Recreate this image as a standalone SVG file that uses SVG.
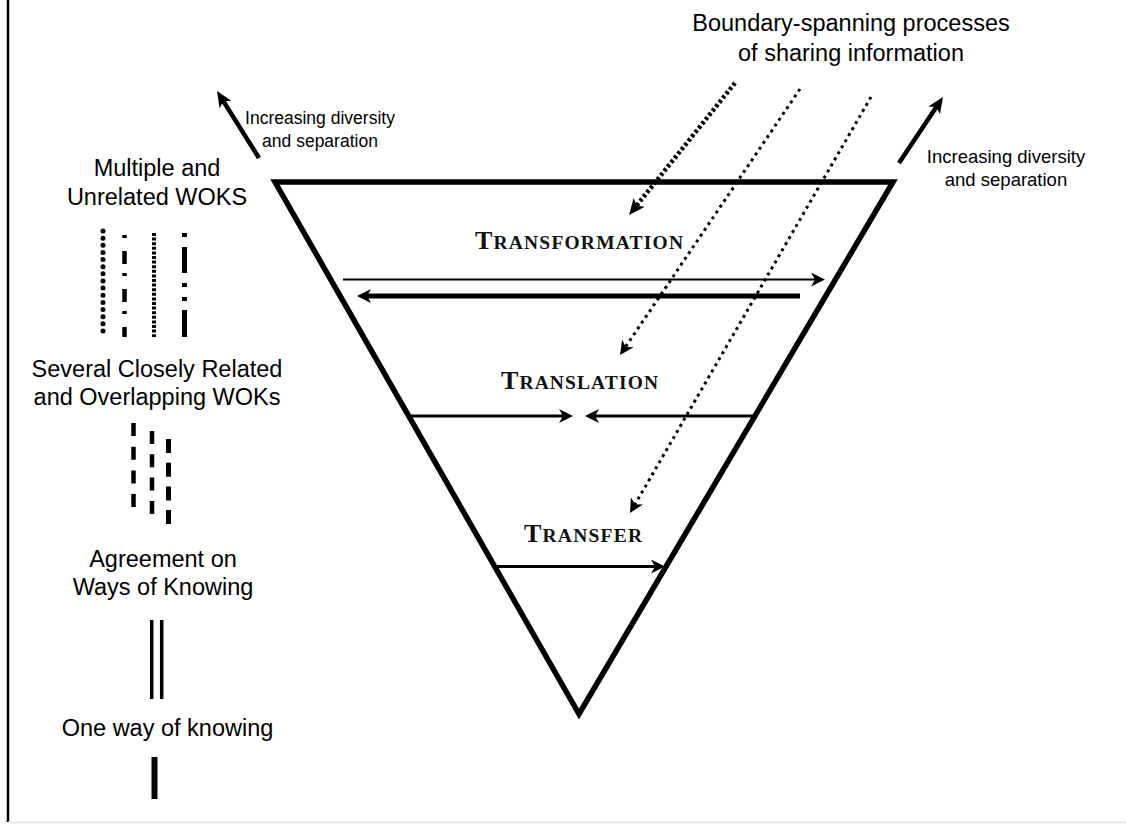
<svg xmlns="http://www.w3.org/2000/svg" width="1126" height="825" viewBox="0 0 1126 825">
<style>
.sans{font-family:"Liberation Sans",Arial,sans-serif;fill:#000}
.lbl{font-size:23.5px;text-anchor:middle}
.small{font-size:17.5px;text-anchor:middle}
.smallr{font-size:18.5px;text-anchor:middle}
.title{font-size:23.5px;text-anchor:middle}
.serif{font-family:"Liberation Serif","Times New Roman",serif;font-weight:bold;fill:#111}
.big{font-size:26px}
.sc{font-size:19.5px}
.ln{stroke:#000;fill:none}
</style>
<defs>
<marker id="ah" viewBox="0 0 14 14" refX="8" refY="7" markerWidth="14" markerHeight="14" markerUnits="userSpaceOnUse" orient="auto">
<path d="M0,0 L14,7 L0,14 L4,7 z" fill="#000"/>
</marker>
<marker id="ahb" viewBox="0 0 16 14" refX="10" refY="7" markerWidth="16" markerHeight="14" markerUnits="userSpaceOnUse" orient="auto">
<path d="M0,0 L16,7 L0,14 L4,7 z" fill="#000"/>
</marker>
</defs>
<rect width="1126" height="825" fill="#fff"/>
<g id="frame">
<line x1="8" y1="0" x2="8" y2="822" stroke="#000" stroke-width="2.5"/>
<line x1="8" y1="822.5" x2="1126" y2="822.5" stroke="#e8e8e8" stroke-width="2"/>
</g>
<g id="triangle">
<path d="M275,182 L893,182 L579,714 Z" class="ln" stroke-width="5.5" stroke-linejoin="miter"/>
</g>
<g id="title">
<text class="sans title" x="851" y="31">Boundary-spanning processes</text>
<text class="sans title" x="851" y="61">of sharing information</text>
</g>
<g id="div-left">
<text class="sans small" x="320" y="124">Increasing diversity</text>
<text class="sans small" x="320" y="147">and separation</text>
</g>
<g id="div-right">
<text class="sans smallr" x="1006" y="163">Increasing diversity</text>
<text class="sans smallr" x="1006" y="186">and separation</text>
</g>
<g id="lbl-transformation">
<text class="serif" x="475" y="249" textLength="208" lengthAdjust="spacing"><tspan class="big">T</tspan><tspan class="sc">RANSFORMATION</tspan></text>
</g>
<g id="lbl-translation">
<text class="serif" x="501" y="389" textLength="157" lengthAdjust="spacing"><tspan class="big">T</tspan><tspan class="sc">RANSLATION</tspan></text>
</g>
<g id="lbl-transfer">
<text class="serif" x="524" y="542" textLength="118" lengthAdjust="spacing"><tspan class="big">T</tspan><tspan class="sc">RANSFER</tspan></text>
</g>
<g id="woks-multiple">
<text class="sans lbl" x="157" y="176">Multiple and</text>
<text class="sans lbl" x="157" y="205">Unrelated WOKS</text>
<line x1="103" y1="231" x2="103" y2="331" class="ln" stroke-width="5" stroke-linecap="round" stroke-dasharray="0 7.14"/>
<line x1="124.5" y1="235" x2="124.5" y2="337" class="ln" stroke-width="4.5" stroke-dasharray="3 13 13 9"/>
<line x1="154" y1="233" x2="154" y2="337" class="ln" stroke-width="4" stroke-dasharray="3 1.6"/>
<line x1="184.5" y1="233" x2="184.5" y2="337" class="ln" stroke-width="5" stroke-dasharray="4 10 26 10 4 10 4 9 27"/>
</g>
<g id="woks-several">
<text class="sans lbl" x="157" y="377">Several Closely Related</text>
<text class="sans lbl" x="157" y="405">and Overlapping WOKs</text>
<line x1="133.5" y1="423" x2="133.5" y2="507" class="ln" stroke-width="4.5" stroke-dasharray="13 10.7"/>
<line x1="152" y1="431" x2="152" y2="514" class="ln" stroke-width="4.5" stroke-dasharray="13 10.3"/>
<line x1="168.5" y1="439" x2="168.5" y2="524" class="ln" stroke-width="5" stroke-dasharray="14 9.7"/>
</g>
<g id="woks-agreement">
<text class="sans lbl" x="163" y="567">Agreement on</text>
<text class="sans lbl" x="163" y="595">Ways of Knowing</text>
<line x1="151.7" y1="620" x2="151.7" y2="699" class="ln" stroke-width="3.5"/>
<line x1="161.7" y1="620" x2="161.7" y2="699" class="ln" stroke-width="3.5"/>
</g>
<g id="woks-one">
<text class="sans lbl" x="167.5" y="736">One way of knowing</text>
<line x1="154.5" y1="757" x2="154.5" y2="799" class="ln" stroke-width="6"/>
</g>
<g id="connectors">
<line x1="259" y1="158" x2="220.2" y2="96.1" class="ln" stroke-width="4.5" marker-end="url(#ahb)"/>
<line x1="899" y1="163" x2="939.7" y2="102" class="ln" stroke-width="4.5" marker-end="url(#ahb)"/>
<line x1="735" y1="83" x2="632.8" y2="210.3" class="ln" stroke-width="4.5" stroke-dasharray="3 2.5" marker-end="url(#ahb)"/>
<line x1="800" y1="89" x2="623.4" y2="350" class="ln" stroke-width="3" stroke-dasharray="3 4" marker-end="url(#ah)"/>
<line x1="871" y1="97" x2="633" y2="507.8" class="ln" stroke-width="3" stroke-dasharray="3 4" marker-end="url(#ah)"/>
<line x1="343" y1="279.5" x2="819" y2="279.5" class="ln" stroke-width="2" marker-end="url(#ah)"/>
<line x1="800" y1="296" x2="363" y2="296" class="ln" stroke-width="5" marker-end="url(#ah)"/>
<line x1="410" y1="416" x2="567" y2="416" class="ln" stroke-width="3" marker-end="url(#ah)"/>
<line x1="753" y1="416" x2="591" y2="416" class="ln" stroke-width="3" marker-end="url(#ah)"/>
<line x1="497" y1="566.5" x2="659" y2="566.5" class="ln" stroke-width="3" marker-end="url(#ah)"/>
</g>
</svg>
